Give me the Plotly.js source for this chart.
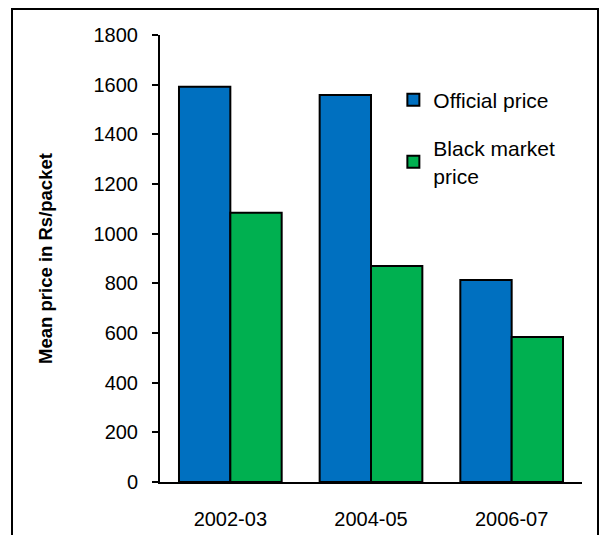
<!DOCTYPE html>
<html>
<head>
<meta charset="utf-8">
<script src="https://cdn.plot.ly/plotly-3.0.1.min.js"></script>
<style>html,body{margin:0;padding:0;background:#fff;}#chart{width:609px;height:535px;}</style>
</head>
<body>
<div id="chart"></div>
<script>
var categories = ["2002-03", "2004-05", "2006-07"];
var officialPrice = [1592, 1558, 813];
var blackMarketPrice = [1084, 870, 584];
var seriesNames = ["Official price", "Black market<br>price"];
var yTickValues = [0, 200, 400, 600, 800, 1000, 1200, 1400, 1600, 1800];

var traces = [
  {type: "bar", x: categories, y: officialPrice, name: seriesNames[0], legendgroup: "a",
   marker: {color: "#0070C0", line: {color: "#000", width: 2}}},
  {type: "bar", x: categories, y: blackMarketPrice, name: seriesNames[1], legendgroup: "b",
   marker: {color: "#00B050", line: {color: "#000", width: 2}}}
];

var layout = {
  width: 609, height: 535,
  margin: {l: 160, r: 27, t: 35, b: 53, pad: 0},
  paper_bgcolor: "#fff", plot_bgcolor: "#fff",
  font: {family: "Liberation Sans, Arial, sans-serif", color: "#000", size: 20},
  barmode: "group", bargap: 0.27, bargroupgap: 0,
  showlegend: true,
  legend: {x: 0.553, y: 0.9, xanchor: "left", yanchor: "top", bgcolor: "rgba(0,0,0,0)",
    font: {size: 21, family: "Liberation Sans, Arial, sans-serif"},
    traceorder: "grouped", tracegroupgap: 18, itemwidth: 30},
  xaxis: {type: "category", range: [-0.5, 2.5], showline: true, linecolor: "#000", linewidth: 2,
    ticks: "", ticklabelstandoff: 18, showgrid: false, zeroline: false, fixedrange: true,
    tickfont: {size: 20}},
  yaxis: {range: [0, 1800], tickvals: yTickValues, showline: true, linecolor: "#000", linewidth: 2,
    ticks: "outside", ticklen: 6, tickwidth: 2, tickcolor: "#000", ticklabelstandoff: 10,
    showgrid: false, zeroline: false, fixedrange: true, tickfont: {size: 20},
    title: {text: "<b>Mean price in Rs/packet</b>", font: {size: 18.5}, standoff: 36}},
  shapes: [
    {type: "rect", xref: "paper", yref: "paper",
     x0: (12 - 160) / 422, x1: (598 - 160) / 422,
     y0: -0.2, y1: 1 + (35 - 9) / 447,
     line: {color: "#000", width: 2}, fillcolor: "rgba(0,0,0,0)", layer: "below"}
  ]
};

Plotly.newPlot("chart", traces, layout, {displayModeBar: false, staticPlot: true});
</script>
</body>
</html>
